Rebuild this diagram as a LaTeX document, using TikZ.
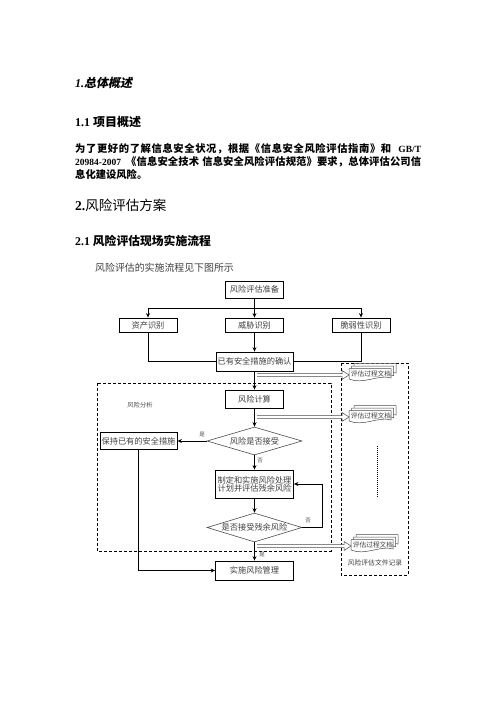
\documentclass[tikz,border=0pt]{standalone}
\usepackage{fontspec}
\setmainfont{Liberation Serif}
\newfontfamily\cjk{Noto Sans CJK SC}
\newfontfamily\cjkit[FakeSlant=0.2]{Noto Sans CJK SC}
\usetikzlibrary{shapes.geometric,arrows.meta,calc}
\newcommand\fsz[1]{\fontsize{#1}{#1}\selectfont}
\ExplSyntaxOn
\NewDocumentCommand\spreadtl{m}{\tl_map_inline:nn {#1}{{##1}\hskip 0pt plus 1fil}\unskip}
\ExplSyntaxOff
% document stack path, centred on text centre (#1,#2)
\newcommand\docpath[2]{(#1-22,#2-5.5) -- (#1+20,#2-5.5) -- (#1+20,#2+4)
  .. controls (#1+8,#2) and (#1-8,#2+11) .. (#1-22,#2+5) -- cycle}
\newcommand\docstack[2]{%
  \draw[docline] \docpath{#1+5}{#2-5};
  \draw[docline] \docpath{#1+2.5}{#2-2.5};
  \draw[docline] \docpath{#1}{#2};}
\newcommand\hollow[2]{%
  \draw[docline] ($(#1)+(0,-1.5)$) -- ($(#2)+(-7,-1.5)$) -- ($(#2)+(-7,-4.5)$)
    -- (#2) -- ($(#2)+(-7,4.5)$) -- ($(#2)+(-7,1.5)$) -- ($(#1)+(0,1.5)$);}
\begin{document}
\begin{tikzpicture}[x=1pt,y=-1pt,
  box/.style={draw=black, line width=0.8pt, inner sep=0pt, fill=white,
    font=\cjk\fsz{8.2}, text=black!75},
  dia/.style={diamond, draw=black!70, line width=0.6pt, inner sep=0pt,
    minimum width=95pt, minimum height=28pt},
  ln/.style={line width=0.8pt},
  arr/.style={line width=0.8pt, -{Stealth[length=4.5pt,width=4pt]}},
  lbl/.style={font=\cjk\fsz{5.5}, text=black!70, inner sep=0pt},
  dtxt/.style={font=\cjk\fsz{8.2}, text=black!75, inner sep=0pt},
  doctxt/.style={font=\cjk\fsz{6.7}, text=black!75, inner sep=0pt},
  docline/.style={draw=black!70, line width=0.5pt, fill=white},
  dbox/.style={line width=0.7pt, dash pattern=on 3pt off 2pt},
  htext/.style={anchor=west, inner sep=0pt}]
\useasboundingbox (0,0) rectangle (496,702);
\fill[white] (0,0) rectangle (496,702);

% headings and paragraph
\node[htext] (h1) at (75,83) {\fsz{12}{\bfseries\itshape 1.}{\cjkit\bfseries 总体概述}};
\node[htext] (h11) at (75,122) {\fsz{12}{\bfseries 1.1 }{\cjk\bfseries 项目概述}};
\node[htext] (p1) at (75,149) {\fsz{10.3}\cjk\bfseries\makebox[346pt][s]{\spreadtl{为了更好的了解信息安全状况，根据《信息安全风险评估指南》和{\hspace{6pt}}{\rmfamily\fsz{9.5}GB/T}}}};
\node[htext] (p2) at (75,162) {\fsz{10.3}\cjk\bfseries\makebox[346pt][s]{\spreadtl{{\rmfamily\fsz{9.5}20984-2007\hspace{5pt}}《信息安全技术{\hspace{3pt}}信息安全风险评估规范》要求，总体评估公司信}}};
\node[htext] (p3) at (75,175) {\fsz{10.3}\cjk\bfseries 息化建设风险。};
\node[htext] (h2) at (75,205) {\fsz{13.5}{\bfseries 2.}{\cjk 风险评估方案}};
\node[htext] (h21) at (75,241) {\fsz{11.8}{\bfseries 2.1 }{\cjk\bfseries 风险评估现场实施流程}};
\node[htext, text=black!75] (intro) at (95,268) {\cjk\fsz{9.9}风险评估的实施流程见下图所示};

% dashed frames
\draw[dbox] (97,383) rectangle (331,551);
\draw[dbox] (341,363) rectangle (408,575);
\node[lbl, font=\cjk\fsz{6.3}] (ana) at (140,405) {风险分析};

% boxes
\node[box, minimum width=58pt, minimum height=17pt] (prep) at (254.5,289.5) {风险评估准备};
\node[box, minimum width=58pt, minimum height=14pt] (asset) at (148,325) {资产识别};
\node[box, minimum width=58pt, minimum height=14pt] (threat) at (254.5,325) {威胁识别};
\node[box, minimum width=58pt, minimum height=14pt] (vuln) at (361,325) {脆弱性识别};
\node[box, minimum width=77pt, minimum height=19pt] (confirm) at (254.5,361.5) {已有安全措施的确认};
\node[box, minimum width=58pt, minimum height=18pt] (calc) at (254.5,399) {风险计算};
\node[box, minimum width=77pt, minimum height=17pt] (keep) at (138.5,441) {保持已有的安全措施};
\node[box, minimum width=78pt, minimum height=28pt, align=center] (plan) at (254.5,484) {制定和实施风险处理\\计划并评估残余风险};
\node[box, minimum width=78pt, minimum height=19pt] (impl) at (254.5,570.5) {实施风险管理};
\node[dia] (d1) at (254.5,441) {};
\node[dtxt] (d1t) at (d1.center) {风险是否接受};
\node[dia, minimum height=29pt] (d2) at (254.5,527.5) {};
\node[dtxt] (d2t) at (d2.center) {是否接受残余风险};

% connectors
\coordinate (hl) at (148,308);
\coordinate (hm) at (254.5,308);
\coordinate (hr) at (361,308);
\draw[ln] (prep.south) -- (hm);
\draw[ln] (hl) -- (hr);
\draw[arr] (hl) -- (asset.north);
\draw[arr] (hm) -- (threat.north);
\draw[arr] (hr) -- (vuln.north);
\draw[ln] (asset.south) |- (confirm.west);
\draw[ln] (vuln.south) |- (confirm.east);
\draw[arr] (threat.south) -- (confirm.north);
\draw[arr] (confirm.south) -- (calc.north);
\draw[arr] (calc.south) -- (d1.north);
\draw[arr] (d1.west) -- (keep.east);
\draw[arr] (d1.south) -- (plan.north);
\draw[arr] (plan.south) -- (d2.north);
\coordinate (fb) at (322,527.5);
\draw[arr] (d2.east) -- (fb) |- (plan.east);
\draw[arr] (d2.south) -- (impl.north);
\draw[arr] (keep.south) |- (impl.west);

\node[lbl] (y1) at (202,435) {是};
\node[lbl] (n1) at (260,461) {否};
\node[lbl] (n2) at (308,521) {否};
\node[lbl] (y2) at (262,555) {是};

% document stacks
\docstack{371}{374}
\node[doctxt] (doc1) at (371,374) {评估过程文档};
\docstack{371}{416}
\node[doctxt] (doc2) at (371,416) {评估过程文档};
\docstack{373}{545}
\node[doctxt] (doc3) at (373,545) {评估过程文档};
\node[doctxt, font=\cjk\fsz{6.8}] (rec) at (375,563) {风险评估文件记录};
\draw[line width=0.8pt, dash pattern=on 0.8pt off 1.2pt] (377,446) -- (377,497);

% hollow arrows
\coordinate (a1s) at (257,375);
\coordinate (a1e) at (349,375);
\coordinate (a2s) at (257,417);
\coordinate (a2e) at (349,417);
\coordinate (a3s) at (257,546);
\coordinate (a3e) at (351,546);
\hollow{a1s}{a1e}
\hollow{a2s}{a2e}
\hollow{a3s}{a3e}
\end{tikzpicture}
\end{document}
